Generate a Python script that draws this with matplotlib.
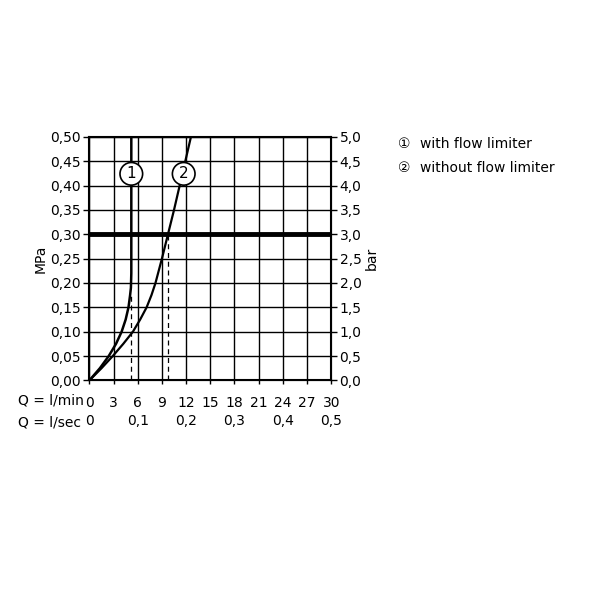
import numpy as np
import matplotlib.pyplot as plt

# flow in l/min, pressure in MPa
q_limiter = [0, 1.3, 2.4, 3.3, 4.0, 4.5, 4.85, 5.05, 5.15, 5.2, 5.2]
p_limiter = [0, 0.025, 0.05, 0.075, 0.10, 0.125, 0.15, 0.175, 0.19, 0.22, 0.50]
q_free = [0, 1.5, 2.9, 4.2, 5.4, 6.3, 7.1, 7.7, 8.2, 9.0, 9.75, 10.5, 11.2, 11.9, 12.6]
p_free = [0, 0.025, 0.05, 0.075, 0.10, 0.125, 0.15, 0.175, 0.20, 0.25, 0.30,
          0.35, 0.40, 0.45, 0.50]

min_ticks = np.arange(0, 31, 3)
sec_ticks = [0, 6, 12, 18, 24, 30]
sec_labels = ['0', '0,1', '0,2', '0,3', '0,4', '0,5']
mpa_ticks = np.arange(0, 0.501, 0.05)
bar_ticks = np.arange(0, 5.01, 0.5)

working_pressure = 0.30
dash_limiter = (5.1, 0.18)
dash_free = (9.75, 0.30)
label_pos = [(5.2, 0.424, '1'), (11.7, 0.424, '2')]
legend = ['with flow limiter', 'without flow limiter']

plt.rcParams['font.family'] = ['DejaVu Sans', 'Noto Sans CJK SC']
fs = 10

fig = plt.figure(figsize=(6, 6), dpi=100)
ax = fig.add_axes([0.149, 0.366, 0.403, 0.406])

ax.set_xlim(0, 30)
ax.set_ylim(0, 0.5)
ax.set_xticks(min_ticks)
ax.set_xticklabels([str(t) for t in min_ticks], fontsize=fs)
ax.set_yticks(mpa_ticks)
ax.set_yticklabels([f'{v:.2f}'.replace('.', ',') for v in mpa_ticks], fontsize=fs)
ax.grid(True, color='black', linewidth=1.0)
ax.tick_params(direction='out', length=4, width=1, color='black', pad=2)
ax.tick_params(axis='x', length=3, pad=8)
for s in ax.spines.values():
    s.set_linewidth(1.5)
ax.set_ylabel('MPa', fontsize=fs, labelpad=2)

ax2 = ax.twinx()
ax2.set_ylim(0, 5)
ax2.set_yticks(bar_ticks)
ax2.set_yticklabels([f'{v:.1f}'.replace('.', ',') for v in bar_ticks], fontsize=fs)
ax2.tick_params(direction='out', length=4, width=1, pad=2)
ax2.set_ylabel('bar', fontsize=fs, labelpad=2)

ax.axhline(working_pressure, color='black', linewidth=3.5, zorder=3)
ax.plot(q_limiter, p_limiter, color='black', linewidth=1.8, zorder=4)
ax.plot(q_free, p_free, color='black', linewidth=1.6, zorder=4)
ax.plot([dash_limiter[0]] * 2, [0, dash_limiter[1]], color='black',
        linewidth=0.9, linestyle=(0, (4, 3)), zorder=4)
ax.plot([dash_free[0]] * 2, [0, dash_free[1]], color='black',
        linewidth=0.9, linestyle=(0, (4, 3)), zorder=4)

for x, y, t in label_pos:
    ax.text(x, y, t, fontsize=fs + 1, ha='center', va='center', zorder=5,
            bbox=dict(boxstyle='circle,pad=0.25', fc='white', ec='black', lw=1.2))

# bottom labels
fig.text(0.03, 1 - 400 / 600, 'Q = l/min', fontsize=fs, ha='left', va='center')
fig.text(0.03, 1 - 422 / 600, 'Q = l/sec', fontsize=fs, ha='left', va='center')
for x, s in zip(sec_ticks, sec_labels):
    ax.text(x, -0.084, s, fontsize=fs, ha='center', va='center')

fig.text(0.663, 0.760, '\u2460', fontsize=fs, va='center')
fig.text(0.70, 0.760, legend[0], fontsize=fs, va='center')
fig.text(0.663, 0.720, '\u2461', fontsize=fs, va='center')
fig.text(0.70, 0.720, legend[1], fontsize=fs, va='center')

fig.savefig('out.png', dpi=100, facecolor='white')
